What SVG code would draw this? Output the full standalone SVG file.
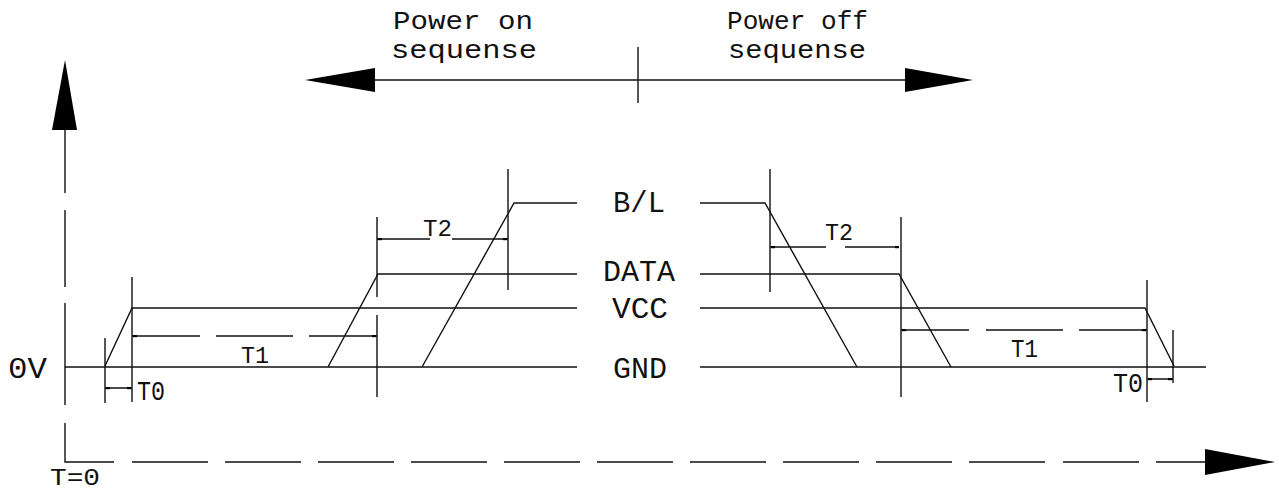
<svg xmlns="http://www.w3.org/2000/svg" width="1279" height="490" viewBox="0 0 1279 490">
<style>
.l{stroke:#111;stroke-width:1.4;fill:none}
.t{font-family:"Liberation Mono","Courier New",monospace;fill:#111}
.ah{fill:#000}
.d{fill:#000}
</style>
<rect width="1279" height="490" fill="#fff"/>
<g id="axes">
<polygon class="ah" points="65,60 52,130 77,130"/>
<path class="l" d="M65,130V193M65,210V287M65,303V405M65,423V462H114M132,462H208M225,462H301M318,462H394M411,462H487M504,462H580M597,462H673M690,462H766M783,462H859M876,462H952M969,462H1045M1063,462H1139M1156,462H1205"/>
<polygon class="ah" points="1275,462 1205,449 1205,475"/>
<text class="t" x="8" y="378" font-size="30" textLength="39" lengthAdjust="spacingAndGlyphs">0V</text>
<text class="t" x="50" y="485" font-size="24" textLength="50" lengthAdjust="spacingAndGlyphs">T=0</text>
</g>
<g id="sequence-arrow">
<path class="l" d="M375,80H905M638,47V103"/>
<polygon class="ah" points="305,80 375,68 375,92"/>
<polygon class="ah" points="973,80 905,68 905,92"/>
<text class="t" x="393" y="29" font-size="25" textLength="140" lengthAdjust="spacingAndGlyphs">Power on</text>
<text class="t" x="391" y="58" font-size="25" textLength="146" lengthAdjust="spacingAndGlyphs">sequense</text>
<text class="t" x="727" y="29" font-size="25" textLength="141" lengthAdjust="spacingAndGlyphs">Power off</text>
<text class="t" x="728" y="58" font-size="25" textLength="138" lengthAdjust="spacingAndGlyphs">sequense</text>
</g>
<g id="GND">
<path class="l" d="M65,367H577M700,367H1206"/>
<text class="t" x="613" y="378" font-size="30" textLength="54" lengthAdjust="spacingAndGlyphs">GND</text>
</g>
<g id="VCC">
<path class="l" d="M105,366L132,308H577M700,308H1145L1174,366"/>
<text class="t" x="612" y="318" font-size="30" textLength="56" lengthAdjust="spacingAndGlyphs">VCC</text>
</g>
<g id="DATA">
<path class="l" d="M328,367L378,274H577M700,274H899L951,367"/>
<text class="t" x="603" y="281" font-size="29" textLength="72" lengthAdjust="spacingAndGlyphs">DATA</text>
</g>
<g id="BL">
<path class="l" d="M422,367L514,203H577M700,203H765L857,367"/>
<text class="t" x="613" y="212" font-size="30" textLength="52" lengthAdjust="spacingAndGlyphs">B/L</text>
</g>
<g id="connectors">
<path class="l" d="M105,338V403M132,277V402M377,217V297M377,315V397M508,169V290M770,169V292M901,217V397M1147,280V402M1173,330V383"/>
<path class="l" d="M105,388H132M132,336H200M216,336H293M309,336H377M377,239H430M452,239H508M770,247H826M845,247H898M901,330H969M986,330H1063M1079,330H1147M1147,379H1173"/>
<g class="d">
<rect x="106" y="387" width="4" height="2.2"/><rect x="127" y="387" width="4" height="2.2"/>
<rect x="133" y="335" width="4" height="2.2"/><rect x="372" y="335" width="4" height="2.2"/>
<rect x="378" y="238" width="4" height="2.2"/><rect x="503" y="238" width="4" height="2.2"/>
<rect x="771" y="246" width="4" height="2.2"/><rect x="895" y="246" width="4" height="2.2"/>
<rect x="902" y="329" width="4" height="2.2"/><rect x="1142" y="329" width="4" height="2.2"/>
<rect x="1148" y="378" width="4" height="2.2"/><rect x="1168" y="378" width="4" height="2.2"/>
</g>
<text class="t" x="137" y="400" font-size="27" textLength="28" lengthAdjust="spacingAndGlyphs">T0</text>
<text class="t" x="241" y="363" font-size="24" textLength="28" lengthAdjust="spacingAndGlyphs">T1</text>
<text class="t" x="423" y="236" font-size="24" textLength="29" lengthAdjust="spacingAndGlyphs">T2</text>
<text class="t" x="825" y="240" font-size="24" textLength="28" lengthAdjust="spacingAndGlyphs">T2</text>
<text class="t" x="1011" y="357" font-size="26" textLength="27" lengthAdjust="spacingAndGlyphs">T1</text>
<text class="t" x="1113" y="392" font-size="28" textLength="30" lengthAdjust="spacingAndGlyphs">T0</text>
</g>
</svg>
